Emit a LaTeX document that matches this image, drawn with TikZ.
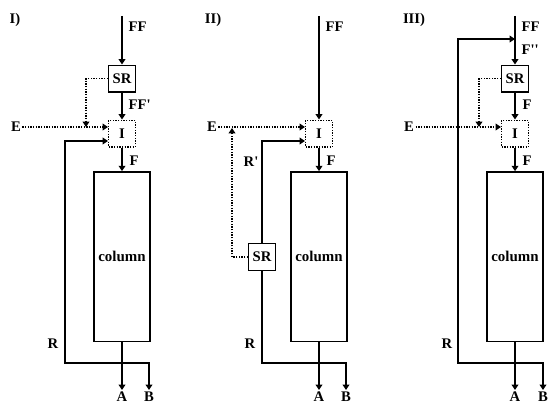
\documentclass[tikz,border=0pt]{standalone}
\usepackage{fontspec}
\setmainfont{Liberation Serif}
\usepackage{tikz}
\usetikzlibrary{arrows.meta, positioning, calc}

\begin{document}
\begin{tikzpicture}[x=0.75pt, y=-0.75pt,
  unit/.style={draw, line width=1pt, minimum width=20pt, minimum height=20pt, inner sep=0pt, font=\fontsize{11}{13}\bfseries},
  mixer/.style={unit, densely dotted},
  column/.style={draw, line width=1pt, minimum width=41pt, minimum height=127pt, font=\fontsize{11.2}{13}\bfseries},
  lab/.style={font=\fontsize{11}{13}\bfseries, inner sep=1pt},
  flow/.style={line width=1pt, -{Triangle[length=4pt,width=5pt]}},
  aux/.style={flow, densely dotted},
  both/.style={line width=1pt, {Triangle[length=4pt,width=5pt]}-{Triangle[length=4pt,width=5pt]}}]
  \useasboundingbox (0,0) rectangle (548,403);

  % Panel I
  \node[lab] (t1) at (15,20) {I)};
  \coordinate (ff1) at (122,16);
  \node[unit] (sr1) at (122,78.5) {SR};
  \node[mixer] (i1) at (122,133.5) {I};
  \node[column] (col1) at (122,256.5) {column};
  \node[lab, anchor=west] (lff1) at (127,27) {FF};
  \node[lab, anchor=west] (lffp1) at (127,105) {FF\textquotesingle};
  \node[lab, anchor=west] (lf1) at (128,161) {F};
  \node[lab] (e1) at (16,127) {E};
  \node[lab] (lr1) at (53,344) {R};
  \node[lab, anchor=north] (a1) at (122,390) {A};
  \node[lab, anchor=north] (b1) at (149,390) {B};
  \coordinate (j1) at (86,127);
  \coordinate (r1) at (65,363);
  \draw[flow] (ff1) -- (sr1.north);
  \draw[flow] (sr1) -- (i1);
  \draw[flow] (i1) -- (col1);
  \draw[aux] (sr1.west) -| (j1);
  \draw[aux] (e1) -- (e1 -| i1.west);
  \draw[flow] (col1.south) -- (a1.north);
  \draw[both] ($(i1.west)+(0,7.5)$) -| (r1) -| (b1.north);

  % Panel II
  \node[lab] (t2) at (213,20) {II)};
  \coordinate (ff2) at (319,16);
  \node[mixer] (i2) at (319,133.5) {I};
  \node[unit] (sr2) at (262,257) {SR};
  \node[column] (col2) at (319,256.5) {column};
  \node[lab, anchor=west] (lff2) at (324,27) {FF};
  \node[lab, anchor=west] (lf2) at (325,161) {F};
  \node[lab] (e2) at (212,127) {E};
  \node[lab] (lrp2) at (251,162) {R\textquotesingle};
  \node[lab] (lr2) at (250,344) {R};
  \node[lab, anchor=north] (a2) at (319,390) {A};
  \node[lab, anchor=north] (b2) at (346,390) {B};
  \coordinate (j2) at (232,128);
  \coordinate (r2) at (262,363);
  \draw[flow] (ff2) -- (i2.north);
  \draw[flow] (i2) -- (col2);
  \draw[aux] (e2) -- (e2 -| i2.west);
  \draw[aux] (sr2.west) -| (j2);
  \draw[flow] (sr2.north) |- ($(i2.west)+(0,7.5)$);
  \draw[flow] (col2.south) -- (a2.north);
  \draw[flow] (sr2.south) -- (r2) -| (b2.north);

  % Panel III
  \node[lab] (t3) at (414,20) {III)};
  \coordinate (ff3) at (515,16);
  \coordinate (m3) at (515,39);
  \node[unit] (sr3) at (515,78.5) {SR};
  \node[mixer] (i3) at (515,133.5) {I};
  \node[column] (col3) at (515,256.5) {column};
  \node[lab, anchor=west] (lff3) at (520,27) {FF};
  \node[lab, anchor=west] (lfpp3) at (520,50) {F\textquotesingle\textquotesingle};
  \node[lab, anchor=west] (lfa3) at (521,105) {F};
  \node[lab, anchor=west] (lfb3) at (521,161) {F};
  \node[lab] (e3) at (409,127) {E};
  \node[lab] (lr3) at (447,344) {R};
  \node[lab, anchor=north] (a3) at (515,390) {A};
  \node[lab, anchor=north] (b3) at (543,390) {B};
  \coordinate (j3) at (479,127);
  \coordinate (r3) at (458,363);
  \draw[flow] (ff3) -- (sr3.north);
  \draw[flow] (sr3) -- (i3);
  \draw[flow] (i3) -- (col3);
  \draw[aux] (sr3.west) -| (j3);
  \draw[aux] (e3) -- (e3 -| i3.west);
  \draw[flow] (col3.south) -- (a3.north);
  \draw[both] (m3) -| (r3) -| (b3.north);
\end{tikzpicture}
\end{document}
